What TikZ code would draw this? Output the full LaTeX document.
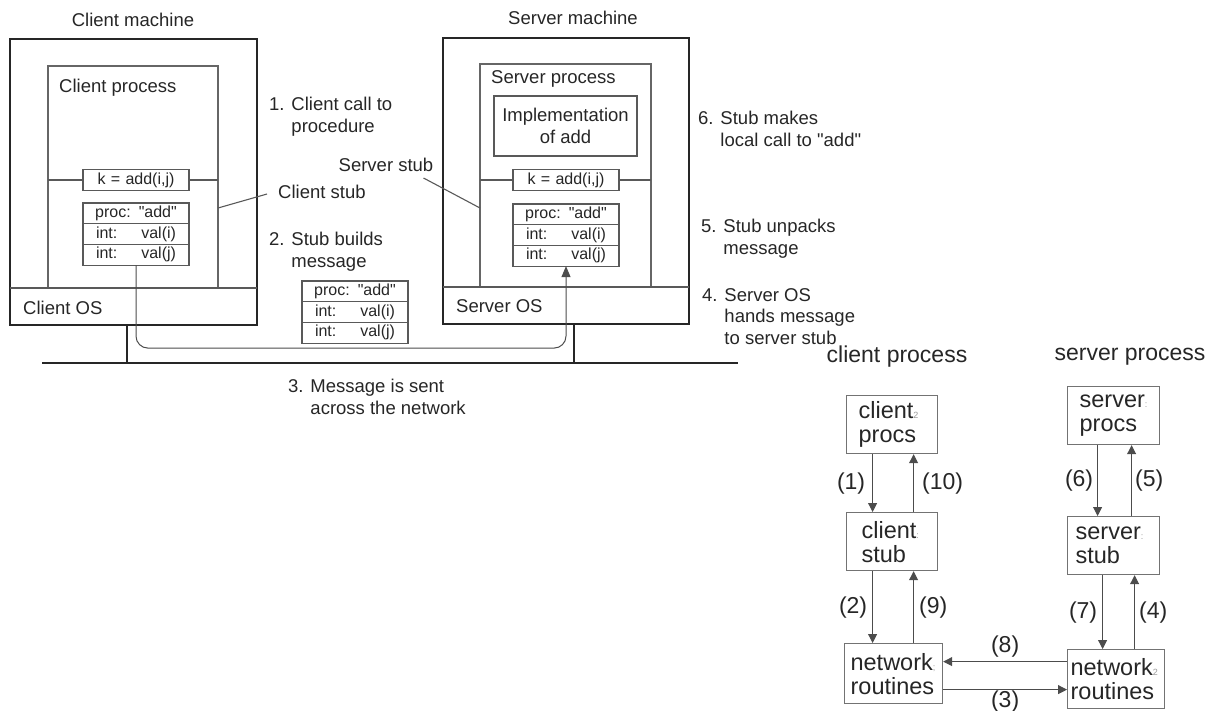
\documentclass[tikz,border=0pt]{standalone}
\usepackage{fontspec}
\setmainfont{Liberation Sans}[Ligatures=TeXOff]
\usepackage{xcolor}
\usetikzlibrary{arrows.meta,positioning}

\newcommand\smudge[1]{{\color{black!40}\fontsize{9}{9}\selectfont#1}}
\newcommand\dq{\symbol{34}}

\begin{document}
\begin{tikzpicture}[x=1pt, y=-1pt,
  machine/.style={draw=black!85, line width=2.4pt, anchor=north west, inner sep=0pt, outer sep=0pt},
  proc/.style={draw=black!60, line width=1.2pt, anchor=north west, inner sep=0pt, outer sep=0pt},
  thin/.style={draw=black!65, line width=1.1pt},
  cell/.style={draw=black!65, line width=1.1pt, text width=80pt, inner xsep=13pt, inner ysep=0pt,
               minimum height=20.7pt, outer sep=0pt, text=black!85, font=\fontsize{16}{17}\selectfont},
  head/.style={cell, align=center, text width=100pt, inner xsep=3pt},
  lbl/.style={inner sep=0pt, text=black!85, font=\fontsize{18.5}{22}\selectfont},
  note/.style={lbl, align=left, anchor=north west, font=\fontsize{18.5}{21.5}\selectfont},
  wire/.style={draw=black!85, line width=2.6pt},
  arr/.style={draw=black!70, line width=1pt, -{Triangle[length=11pt, width=9pt]}},
  rbox/.style={draw=black!55, line width=1.2pt, anchor=north west, align=left, inner ysep=0pt,
               minimum height=58pt, text=black!85, font=\fontsize{23.5}{24}\selectfont},
  rarr/.style={draw=black!70, line width=1pt, -{Triangle[length=9pt, width=9pt]}},
  num/.style={inner sep=0pt, text=black!85, font=\fontsize{23}{23}\selectfont}]
\useasboundingbox (0,0) rectangle (1218,710);

% client machine
\node[lbl] (cmlabel) at (133,20) {Client machine};
\node[machine, minimum width=247pt, minimum height=286pt] (cm) at (10,39) {};
\node[proc, minimum width=170pt, minimum height=222pt] (cp) at (48,66) {};
\draw[thin] (cm.west |- cp.south) -- (cm.east |- cp.south);
\node[lbl, anchor=west] (cplabel) at (59,88) {Client process};
\node[lbl, anchor=west] (coslabel) at (23,308) {Client OS};
\node[head] (ck) at (136,180) {k = add(i,j)};
\draw[thin] (cp.west |- ck.west) -- (ck.west);
\draw[thin] (ck.east) -- (cp.east |- ck.east);
\node[head, anchor=north] (cproc) at (136,203) {proc: \dq add\dq};
\node[cell, align=left, below=0pt of cproc] (cvi) {int:\hfill val(i)};
\node[cell, align=left, below=0pt of cvi] (cvj) {int:\hfill val(j)};
\node[lbl, anchor=west] (cstub) at (278,192) {Client stub};
\draw[thin] ([yshift=-31pt]cp.east) -- ([xshift=-11pt,yshift=-2pt]cstub.west);

% message on the way
\node[head, anchor=north] (mproc) at (355,281) {proc: \dq add\dq};
\node[cell, align=left, below=0pt of mproc] (mvi) {int:\hfill val(i)};
\node[cell, align=left, below=0pt of mvi] (mvj) {int:\hfill val(j)};

% server machine
\node[lbl] (smlabel) at (573,18) {Server machine};
\node[machine, minimum width=246pt, minimum height=286pt] (sm) at (443,38) {};
\node[proc, minimum width=171pt, minimum height=223pt] (sp) at (480,64) {};
\draw[thin] (sm.west |- sp.south) -- (sm.east |- sp.south);
\node[lbl, anchor=west] (splabel) at (491,79) {Server process};
\node[draw=black!65, line width=1.1pt, minimum width=143pt, minimum height=60pt, align=center,
      lbl] (impl) at (565.5,126) {Implementation\\of add};
\node[head] (sk) at (566,180) {k = add(i,j)};
\draw[thin] (sp.west |- sk.west) -- (sk.west);
\draw[thin] (sk.east) -- (sp.east |- sk.east);
\node[head, anchor=north] (sproc) at (566,204) {proc: \dq add\dq};
\node[cell, align=left, below=0pt of sproc] (svi) {int:\hfill val(i)};
\node[cell, align=left, below=0pt of svi] (svj) {int:\hfill val(j)};
\node[lbl, anchor=west] (soslabel) at (456,306) {Server OS};
\node[lbl] (sstub) at (386,165) {Server stub};
\draw[thin] ([xshift=-10pt,yshift=-6pt]sstub.south east) -- ([yshift=-32.5pt]sp.west);

% network
\coordinate (netL) at (42,363);
\coordinate (netR) at (738,363);
\draw[wire] (netL) -- (netR);
\draw[wire] ([xshift=-6.5pt]cm.south) -- ([xshift=-6.5pt]cm.south |- netL);
\draw[wire] ([xshift=8pt]sm.south) -- ([xshift=8pt]sm.south |- netL);
\draw[arr, rounded corners=12pt] (cvj.south) -- ++(0,83) -| (svj.south);

% steps
\node[note] (n1) at (269,97) {1. Client call to\\\hphantom{1. }procedure};
\node[note] (n2) at (269,232) {2. Stub builds\\\hphantom{2. }message};
\node[note] (n3) at (288,379) {3. Message is sent\\\hphantom{3. }across the network};
\node[note] (n4) at (702,288) {4. Server OS\\\hphantom{4. }hands message\\\hphantom{4. }to server stub};
\node[note] (n5) at (701,219) {5. Stub unpacks\\\hphantom{5. }message};
\node[note] (n6) at (698,111) {6. Stub makes\\\hphantom{6. }local call to \dq add\dq};

% rpc layers
\node[num] (cphead) at (897,357) {client process};
\node[num] (sphead) at (1130,357) {server process};
\node[rbox, inner xsep=12pt, text width=67pt] (cprocs) at (846,395) {client\smudge{2}\\procs};
\node[rbox, inner xsep=15pt, text width=61pt] (cstubb) at (846,512) {client\smudge{:}\\stub};
\node[rbox, inner xsep=6pt, text width=86pt, minimum height=60pt] (cnet) at (844,643) {network\smudge{;}\\routines};
\node[rbox, inner xsep=12pt, text width=68pt] (sprocs) at (1067,386) {server\smudge{:}\\procs};
\node[rbox, inner xsep=8pt, text width=76pt] (sstubb) at (1067,516) {server\smudge{:}\\stub};
\node[rbox, inner xsep=3pt, text width=91pt, minimum height=59pt] (snet) at (1067,649) {network\smudge{2}\\routines};

\draw[rarr] ([xshift=-19.5pt]cprocs.south) -- ([xshift=-19.5pt]cprocs.south |- cstubb.north)
  node[num, midway, left=7pt] {(1)};
\draw[rarr] ([xshift=21.5pt]cprocs.south |- cstubb.north) -- ([xshift=21.5pt]cprocs.south)
  node[num, midway, right=8pt] {(10)};
\draw[rarr] ([xshift=-19.5pt]cstubb.south) -- ([xshift=-19.5pt]cstubb.south |- cnet.north)
  node[num, midway, left=5pt] {(2)};
\draw[rarr] ([xshift=21.5pt]cstubb.south |- cnet.north) -- ([xshift=21.5pt]cstubb.south)
  node[num, midway, right=5pt] {(9)};
\draw[rarr] ([xshift=-16pt]sprocs.south) -- ([xshift=-16pt]sprocs.south |- sstubb.north)
  node[num, midway, left=4pt] {(6)};
\draw[rarr] ([xshift=18pt]sprocs.south |- sstubb.north) -- ([xshift=18pt]sprocs.south)
  node[num, midway, right=3pt] {(5)};
\draw[rarr] ([xshift=-11pt]sstubb.south) -- ([xshift=-11pt]sstubb.south |- snet.north)
  node[num, midway, left=5pt] {(7)};
\draw[rarr] ([xshift=21pt]sstubb.south |- snet.north) -- ([xshift=21pt]sstubb.south)
  node[num, midway, right=4pt] {(4)};
\draw[rarr] ([yshift=17.5pt]snet.west) -- ([yshift=17.5pt]snet.west -| cnet.east)
  node[num, midway, above=4pt] {(8)};
\draw[rarr] ([yshift=-16pt]cnet.east) -- ([yshift=-16pt]cnet.east -| snet.west)
  node[num, midway, below=0.5pt] {(3)};
\end{tikzpicture}
\end{document}
